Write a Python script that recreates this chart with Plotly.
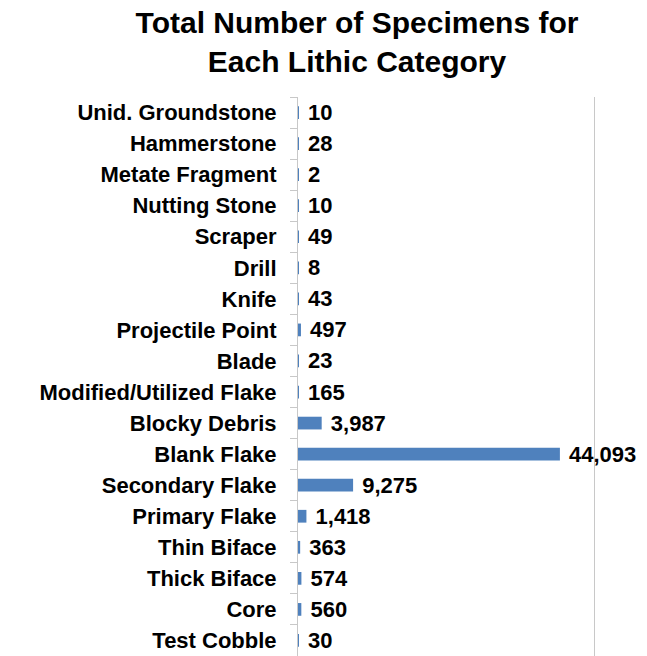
import plotly.graph_objects as go

# categories listed bottom to top (plotly draws first category at the bottom)
categories = [
    "Test Cobble", "Core", "Thick Biface", "Thin Biface", "Primary Flake",
    "Secondary Flake", "Blank Flake", "Blocky Debris", "Modified/Utilized Flake",
    "Blade", "Projectile Point", "Knife", "Drill", "Scraper", "Nutting Stone",
    "Metate Fragment", "Hammerstone", "Unid. Groundstone",
]
counts = [30, 560, 574, 363, 1418, 9275, 44093, 3987, 165, 23, 497, 43, 8, 49, 10, 2, 28, 10]
grid_values = [0, 50000]

title = "Total Number of Specimens for<br>Each Lithic Category"
font_family = "Liberation Sans, Arial, sans-serif"

# the page body keeps its default 8px margin, so the figure is 8px smaller
fig_w, fig_h = 639, 648

fig = go.Figure(
    go.Bar(
        x=counts,
        y=categories,
        orientation="h",
        marker=dict(color="#4F81BD", line=dict(width=0)),
        texttemplate=" %{x:,}",
        textposition="outside",
        constraintext="none",
        textfont=dict(family=font_family, size=22, color="black", weight="bold"),
        cliponaxis=False,
    )
)

fig.update_layout(
    width=fig_w,
    height=fig_h,
    plot_bgcolor="white",
    paper_bgcolor="white",
    showlegend=False,
    bargap=0.59,
    margin=dict(l=290, r=51, t=89, b=0),
    title=dict(
        text=title,
        font=dict(family=font_family, size=30, color="black", weight="bold"),
        x=349 / fig_w,
        xanchor="center",
        xref="container",
        y=1 - 25 / fig_h,
        yanchor="top",
        yref="container",
    ),
    xaxis=dict(
        range=[0, 50170],
        tickvals=grid_values,
        showgrid=True,
        gridcolor="#C8C8C8",
        gridwidth=1,
        showticklabels=False,
        zeroline=False,
        showline=False,
        automargin=False,
    ),
    yaxis=dict(
        type="category",
        automargin=False,
        showline=True,
        linecolor="#C8C8C8",
        linewidth=1,
        ticks="outside",
        tickson="boundaries",
        ticklen=7,
        tickcolor="#C8C8C8",
        ticklabelstandoff=16,
        tickfont=dict(family=font_family, size=22, color="black", weight="bold"),
        showgrid=False,
    ),
)

fig.write_html("out.html")
